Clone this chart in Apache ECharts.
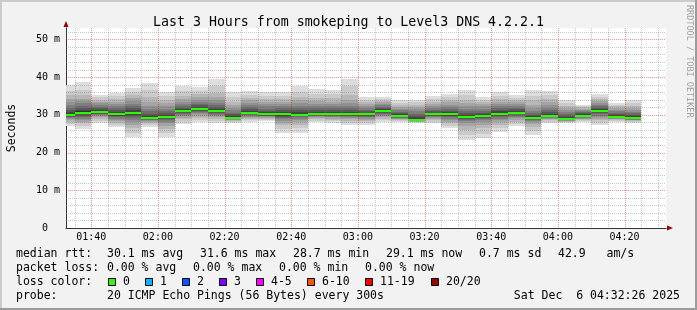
<!DOCTYPE html>
<html><head><meta charset="utf-8">
<script src="https://cdn.jsdelivr.net/npm/echarts@6/dist/echarts.min.js"></script>
<style>html,body{margin:0;padding:0;background:#f2f2f2}#c{width:697px;height:310px}</style>
</head><body><div id="c"></div>
<script>
// ---------- data ----------
const titleText = 'Last 3 Hours from smokeping to Level3 DNS 4.2.2.1';
const rangeStart = '01:32:26';
const rangeEnd = '04:32:26';
const stepMinutes = 5;
// end time of each 5-minute step (rrd timestamp)
const endTimes = ['01:35','01:40','01:45','01:50','01:55','02:00','02:05','02:10','02:15','02:20',
  '02:25','02:30','02:35','02:40','02:45','02:50','02:55','03:00','03:05','03:10',
  '03:15','03:20','03:25','03:30','03:35','03:40','03:45','03:50','03:55','04:00',
  '04:05','04:10','04:15','04:20','04:25'];
// median rtt (ms)
const medians = [30.0,30.5,30.8,30.2,30.5,29.2,29.4,31.0,31.6,31.0,29.2,30.5,30.1,30.2,30.0,30.1,30.2,30.1,
  30.1,31.0,29.6,28.7,30.1,30.1,29.3,29.7,30.3,30.6,29.1,29.7,28.9,29.7,31.1,29.5,29.1];
// 20 sorted ping rtts (ms) per step
const pings = [
[27.1,27.6,28.1,28.5,28.8,29.1,29.3,29.5,29.7,29.9,30.3,30.7,31.2,31.8,32.5,33.3,34.2,35.2,36.4,37.8],
[26.3,27.1,27.7,28.1,28.6,29.0,29.4,29.7,30.1,30.4,30.9,31.3,31.8,32.4,33.0,33.6,34.3,35.2,36.6,38.8],
[27.8,28.4,28.9,29.3,29.6,29.9,30.1,30.3,30.5,30.7,31.0,31.3,31.7,32.1,32.6,33.0,33.5,34.0,34.6,35.3],
[26.7,27.4,27.9,28.3,28.7,29.0,29.3,29.6,29.8,30.0,30.4,30.8,31.3,31.8,32.3,32.9,33.5,34.2,35.0,35.9],
[24.1,25.2,26.4,27.4,28.1,28.7,29.2,29.6,29.9,30.3,30.8,31.2,31.7,32.3,32.9,33.6,34.4,35.2,36.1,37.2],
[26.7,27.3,27.7,28.0,28.3,28.5,28.7,28.9,29.0,29.1,29.4,29.8,30.3,30.9,31.6,32.4,33.4,34.8,36.5,38.5],
[24.1,25.1,26.2,27.1,27.7,28.2,28.6,28.9,29.1,29.3,29.6,30.0,30.5,31.0,31.6,32.3,33.1,34.0,35.0,36.1],
[27.6,28.2,28.8,29.2,29.6,29.9,30.2,30.5,30.7,30.9,31.2,31.5,31.9,32.3,32.8,33.4,34.1,35.0,36.2,37.7],
[28.0,28.7,29.2,29.7,30.1,30.5,30.8,31.1,31.3,31.5,31.8,32.1,32.5,32.9,33.4,34.0,34.6,35.4,36.3,37.3],
[27.8,28.4,28.9,29.3,29.7,30.0,30.3,30.6,30.8,30.9,31.2,31.6,32.0,32.5,33.1,33.8,34.7,35.9,37.6,39.6],
[27.8,28.1,28.3,28.5,28.7,28.8,28.9,29.0,29.1,29.2,29.4,29.7,30.1,30.6,31.2,31.8,32.6,33.5,34.6,36.0],
[28.0,28.5,28.9,29.2,29.5,29.8,30.0,30.2,30.3,30.4,30.7,31.1,31.5,32.0,32.5,33.1,33.8,34.5,35.3,36.3],
[28.4,28.7,29.0,29.2,29.4,29.6,29.7,29.8,29.9,30.0,30.3,30.7,31.1,31.6,32.2,32.8,33.5,34.2,35.1,36.1],
[25.3,26.3,27.2,27.9,28.4,28.8,29.2,29.5,29.8,30.0,30.4,30.8,31.2,31.7,32.2,32.8,33.5,34.2,35.1,36.1],
[25.3,26.5,27.4,28.1,28.6,29.0,29.3,29.6,29.8,29.9,30.3,30.7,31.2,31.7,32.3,33.0,33.8,34.8,36.0,37.5],
[28.0,28.4,28.8,29.1,29.4,29.6,29.8,29.9,30.0,30.1,30.4,30.8,31.2,31.7,32.3,32.9,33.6,34.5,35.6,36.8],
[27.8,28.3,28.7,29.0,29.3,29.5,29.7,29.9,30.0,30.1,30.4,30.8,31.2,31.7,32.2,32.8,33.5,34.4,35.4,36.6],
[27.3,27.9,28.4,28.8,29.1,29.4,29.6,29.8,29.9,30.0,30.4,30.8,31.2,31.7,32.3,33.0,33.9,35.2,37.6,39.6],
[27.3,27.8,28.3,28.7,29.0,29.3,29.5,29.7,29.9,30.0,30.3,30.6,31.0,31.4,31.8,32.3,32.8,33.4,34.0,34.7],
[28.0,28.5,28.9,29.3,29.6,29.9,30.2,30.5,30.7,30.9,31.2,31.5,31.8,32.1,32.5,32.9,33.3,33.7,34.2,34.7],
[28.2,28.4,28.6,28.8,29.0,29.1,29.2,29.3,29.4,29.5,29.8,30.1,30.4,30.8,31.2,31.6,32.1,32.6,33.2,33.8],
[27.9,28.0,28.1,28.2,28.3,28.4,28.5,28.5,28.6,28.7,28.9,29.3,29.8,30.3,30.9,31.5,32.1,32.7,33.3,33.9],
[27.8,28.2,28.6,28.9,29.2,29.4,29.6,29.8,29.9,30.0,30.3,30.6,31.0,31.4,31.9,32.4,32.9,33.5,34.2,34.9],
[26.4,27.1,27.7,28.2,28.6,29.0,29.3,29.6,29.8,30.0,30.3,30.7,31.1,31.6,32.1,32.7,33.3,34.0,34.7,35.5],
[23.3,24.6,26.0,27.1,27.8,28.3,28.6,28.9,29.1,29.2,29.5,29.9,30.4,30.9,31.5,32.2,33.0,34.0,35.2,36.6],
[23.8,25.0,26.4,27.4,28.1,28.6,28.9,29.2,29.4,29.6,29.9,30.2,30.6,31.1,31.6,32.2,32.8,33.4,34.0,34.7],
[25.5,26.5,27.4,28.1,28.6,29.0,29.4,29.7,30.0,30.2,30.5,30.9,31.3,31.8,32.3,32.9,33.5,34.2,35.0,36.0],
[26.9,27.6,28.2,28.7,29.1,29.5,29.8,30.1,30.3,30.5,30.8,31.1,31.5,31.9,32.3,32.8,33.3,33.9,34.5,35.3],
[24.7,25.8,26.8,27.5,28.0,28.4,28.6,28.8,28.9,29.0,29.3,29.6,30.0,30.5,31.1,31.8,32.7,33.8,35.1,36.6],
[27.8,28.2,28.5,28.8,29.0,29.2,29.3,29.4,29.5,29.6,29.9,30.3,30.7,31.2,31.8,32.5,33.3,34.2,35.2,36.3],
[27.8,28.0,28.2,28.3,28.4,28.5,28.6,28.7,28.8,28.8,29.1,29.4,29.8,30.2,30.7,31.2,31.8,32.4,33.1,33.8],
[28.0,28.3,28.6,28.8,29.0,29.2,29.3,29.4,29.5,29.6,29.9,30.1,30.4,30.7,31.0,31.3,31.6,32.0,32.3,32.7],
[27.2,27.9,28.5,29.0,29.4,29.8,30.2,30.5,30.7,30.9,31.3,31.6,31.9,32.3,32.7,33.1,33.6,34.2,34.8,35.6],
[28.2,28.4,28.6,28.8,29.0,29.1,29.2,29.3,29.4,29.4,29.7,30.0,30.3,30.6,31.0,31.4,31.8,32.2,32.6,33.0],
[27.9,28.1,28.3,28.5,28.6,28.7,28.8,28.9,29.0,29.0,29.3,29.6,30.0,30.4,30.8,31.3,31.8,32.4,33.1,33.9]
];
const xLabelTimes = ['01:40','02:00','02:20','02:40','03:00','03:20','03:40','04:00','04:20'];
const yMax = 53.0;
const yTickValues = [0,10,20,30,40,50];
const rttStats = [30.1, 31.6, 28.7, 29.1];
const statNames = ['avg','max','min','now'];
const rttSd = 0.7;
const rttAmps = 42.9;
const lossStats = [0.00, 0.00, 0.00, 0.00];
const lossLabels = ['0','1','2','3','4-5','6-10','11-19','20/20'];
const lossColors = ['#26ff00','#00b8ff','#0059ff','#7e00ff','#ff00ff','#ff5500','#ff0000','#a10000'];
const probeText = '20 ICMP Echo Pings (56 Bytes) every 300s';
const dateText = 'Sat Dec  6 04:32:26 2025';

// ---------- helpers ----------
function toMin(s){ const p = s.split(':').map(Number); return p[0]*60 + p[1] + (p[2]||0)/60; }
function fmtMin(v){ const h = Math.floor(v/60), m = Math.round(v - h*60); return String(h).padStart(2,'0')+':'+String(m).padStart(2,'0'); }
const xMin = toMin(rangeStart), xMax = toMin(rangeEnd);
const smokeColors = ['#dddddd','#cacaca','#b7b7b7','#a4a4a4','#919191','#7e7e7e','#6b6b6b','#585858','#454545','#323232'];
const FONT = 'DejaVu Sans Mono';

const smokeData = [];
for (let layer = 0; layer < 10; layer++) {
  for (let k = 0; k < pings.length; k++) {
    const p = pings[k].slice().sort((a,b)=>a-b);
    const e = toMin(endTimes[k]);
    smokeData.push([e - stepMinutes, e, p[layer], p[19-layer], layer]);
  }
}
const medianData = endTimes.map((t,k)=>[toMin(t)-stepMinutes, toMin(t), medians[k]]);

// grid lines (axis ticks)
const vGrid = [];
for (let t = Math.ceil(xMin/5)*5; t < xMax; t += 5) vGrid.push([t, 0, t % 20 === 0 ? 1 : 0]);
const hGrid = [];
for (let v = 2; v < yMax; v += 2) hGrid.push([xMin, v, v % 10 === 0 ? 1 : 0]);
const MAJ = 'rgba(225,0,0,0.42)', MIN = 'rgba(120,120,120,0.42)';

const chart = echarts.init(document.getElementById('c'), null, {renderer:'canvas'});

// legend graphics
const g = [];
const L1 = 254.5, L2 = 268.5, L3 = 282.5, L4 = 296.5;
function txt(x, y, s, align){ g.push({type:'text', x:x, y:y, style:{text:s, fill:'#000', font:'11.5px "'+FONT+'"', textAlign:align||'left', textVerticalAlign:'middle'}}); }
txt(16, L1, 'median rtt:');
const rttX = [107, 200, 293, 386];
rttStats.forEach((v,i)=>txt(rttX[i], L1, v.toFixed(1)+' ms '+statNames[i]));
txt(479, L1, rttSd.toFixed(1)+' ms sd');
txt(558, L1, rttAmps.toFixed(1)+'   am/s');
txt(16, L2, 'packet loss:');
const lossX = [107, 193, 279, 365];
lossStats.forEach((v,i)=>txt(lossX[i], L2, v.toFixed(2)+' % '+statNames[i]));
txt(16, L3, 'loss color:');
const boxX = [108, 145, 182, 219, 256, 307, 365, 431];
lossLabels.forEach((lab,i)=>{
  g.push({type:'rect', shape:{x:boxX[i]+0.5, y:278.5, width:7, height:7}, style:{fill:lossColors[i], stroke:'#000', lineWidth:1}});
  txt(boxX[i]+15, L3, lab);
});
txt(16, L4, 'probe:');
txt(107, L4, probeText);
txt(680, L4, dateText, 'right');
g.push({type:'text', x:689, y:5, rotation:-Math.PI/2, style:{text:'RRDTOOL / TOBI OETIKER', fill:'#a0a0a0', font:'8.5px "'+FONT+'"', textAlign:'left', textVerticalAlign:'middle'}});
// 3D frame
g.push({type:'rect', shape:{x:0,y:0,width:697,height:2}, style:{fill:'#cbcbcb'}, z:100});
g.push({type:'rect', shape:{x:0,y:0,width:2,height:310}, style:{fill:'#cbcbcb'}, z:100});
g.push({type:'rect', shape:{x:0,y:308,width:697,height:2}, style:{fill:'#9b9b9b'}, z:101});
g.push({type:'rect', shape:{x:695,y:0,width:2,height:310}, style:{fill:'#9b9b9b'}, z:101});

const option = {
  animation: false,
  backgroundColor: '#f2f2f2',
  title: {text: titleText, left: 'center', top: 11, textStyle:{fontFamily: FONT, fontSize: 13.25, fontWeight:'normal', color:'#000'}},
  grid: {left: 66, top: 28, width: 600, height: 200, show: true, backgroundColor: '#ffffff', borderWidth: 0, containLabel: false, outerBoundsMode: 'none'},
  xAxis: [{
    type:'value', min:xMin, max:xMax,
    axisLine:{show:true, onZero:false, lineStyle:{color:'#333', width:1}},
    axisTick:{show:false},
    splitLine:{show:false},
    axisLabel:{customValues: xLabelTimes.map(toMin), formatter: v=>fmtMin(v), fontFamily:FONT, fontSize:10, color:'#000', margin:4}
  },{
    type:'value', min:xMin, max:xMax, position:'bottom',
    axisLine:{show:true, onZero:false, symbol:['none','triangle'], symbolSize:[5,6], symbolOffset:[0,4], lineStyle:{color:'#990000', width:0}},
    axisTick:{show:false}, axisLabel:{show:false}, splitLine:{show:false}
  }],
  yAxis: [{
    type:'value', min:0, max:yMax, interval:10,
    axisLine:{show:true, onZero:false, lineStyle:{color:'#333', width:1}},
    axisTick:{show:false},
    splitLine:{show:false},
    axisLabel:{customValues: yTickValues, formatter: v=> v===0 ? '0  ' : v+' m', fontFamily:FONT, fontSize:10, color:'#000', margin:6},
    name:'Seconds', nameLocation:'middle', nameGap:48, nameTextStyle:{fontFamily:FONT, fontSize:11.5, color:'#000'}
  },{
    type:'value', min:0, max:yMax, position:'left',
    axisLine:{show:true, onZero:false, symbol:['none','triangle'], symbolSize:[5,6], symbolOffset:[0,4], lineStyle:{color:'#990000', width:0}},
    axisTick:{show:false}, axisLabel:{show:false}, splitLine:{show:false}
  }],
  graphic: g,
  series: [
    {
      type:'custom', name:'smoke', clip:true, z:2,
      encode:{x:[0,1], y:[2,3]},
      data: smokeData,
      renderItem: (params, api) => {
        const a = api.coord([api.value(0), api.value(3)]);
        const b = api.coord([api.value(1), api.value(2)]);
        const x0 = Math.round(a[0]), x1 = Math.round(b[0]);
        const y0 = Math.round(a[1]), y1 = Math.round(b[1]);
        return {type:'rect', shape:{x:x0, y:y0, width:x1-x0, height:Math.max(1, y1-y0)}, style:{fill: smokeColors[api.value(4)]}};
      }
    },
    {
      type:'custom', name:'grid', z:3, silent:true,
      encode:{x:0, y:1},
      data: vGrid,
      renderItem: (params, api) => {
        const cs = params.coordSys;
        const p = api.coord([api.value(0), 0]);
        const x = Math.round(p[0]) + 0.5;
        return {type:'line', shape:{x1:x, y1:cs.y, x2:x, y2:cs.y+cs.height}, style:{stroke: api.value(2) ? MAJ : MIN, lineWidth:1, lineDash:[1,1]}};
      }
    },
    {
      type:'custom', name:'hgrid', z:3, silent:true,
      encode:{x:0, y:1},
      data: hGrid,
      renderItem: (params, api) => {
        const cs = params.coordSys;
        const p = api.coord([xMin, api.value(1)]);
        const y = Math.round(p[1]) + 0.5;
        return {type:'line', shape:{x1:cs.x, y1:y, x2:cs.x+cs.width, y2:y}, style:{stroke: api.value(2) ? MAJ : MIN, lineWidth:1, lineDash:[1,1]}};
      }
    },
    {
      type:'custom', name:'median', clip:true, z:4,
      encode:{x:[0,1], y:2},
      data: medianData,
      renderItem: (params, api) => {
        const a = api.coord([api.value(0), api.value(2)]);
        const b = api.coord([api.value(1), api.value(2)]);
        const x0 = Math.round(a[0]), x1 = Math.round(b[0]);
        const y = Math.round(a[1]);
        return {type:'rect', shape:{x:x0, y:y-1, width:x1-x0, height:2}, style:{fill: lossColors[0]}};
      }
    }
  ]
};
chart.setOption(option);
</script>
</body></html>
